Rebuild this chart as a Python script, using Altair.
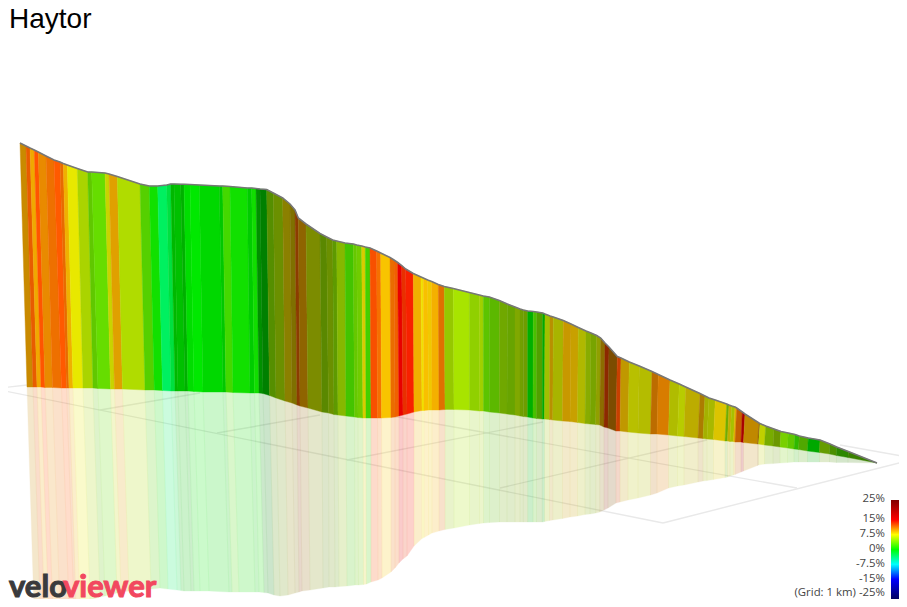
import altair as alt
import pandas as pd

# Scene, in page pixels. Every list holds one value per strip boundary.
top_x = [20,26,30,34.3,38.3,46,54,60,63.3,67.3,77.3,87.7,91.7,105,109,117.3,140,149.3,157.7,166.7,170.7,174,180.7,184,190,199.3,219.3,222.7,230,247.3,251.7,256,260,266.7,273.3,282.7,290,295,298.3,306,320,326.7,332.7,336.7,345,353.3,356.7,361.7,365.3,370,376.7,380.7,390,394,397.7,401.7,405.7,413.3,421,423.3,427.7,431.7,438.3,444.3,453.3,469.3,479.3,483.3,489.3,499.3,507.3,515,520,523.3,527.7,533.3,536.7,542.7,545,550,553.3,563.3,571,578.3,586,591,596.7,600.7,605,609,617.3,621,629.3,639.3,652,658.3,670,679.3,685.7,700,705,709,715.3,726.7,729,731.7,735,736.7,742.3,745,759,760,765.7,774,781,788.3,795,799.3,808.3,820,830,836.7,848.3,877]
top_y = [143,146,148,150,152,156,160,162,163.5,165,168.5,172,172,173,174,176.5,184,186,186,185,184,184,184.2,184.3,184.5,185,186,186,186.5,188,188,188.5,189,189.5,193,198,204,210,218,224,233.5,237,240,241,243,244,245,246,247,248,251,253,257.5,260,262.5,265.5,269,273.5,277,278,280,281.5,284.5,286.5,288.5,292.5,295,296,297,300.5,304,307,309,310,311,311.5,312,313,314,316,317,320.5,324,327.5,331,333,335.5,338,343,347,356.5,358,362,366,371.5,374.5,380,384,387,393.5,396,398,400,404,405,406,407,408,412,414,423,423.5,426,429,431.5,433,434.5,436,438,440,444,447,451.5,463]
base_x = [27,33,37,41,45,52.5,61.5,66.5,69,73,83,93,98,110.5,114.5,122.5,145,154.3,162.5,171,175,178,185,188,194,203,223,226,233,250,254.5,259,263,269.5,276,285,292,297,300,308,322,328.5,334,338,346,354.5,358,363,366,371,377.5,381.5,391,395,399,403,407,414,422,424,428.5,432,439,445,454,469.5,479.5,483.5,489.5,499.5,507,515,520,523.3,527.7,533,536.5,542.3,544.5,549.5,552.8,562.5,570,577.5,585,590,595.7,599.7,604,608,616,620,628,638,650.5,657,668.5,677.5,684,698,703,707,713.5,725,727.5,730,733.5,735,741,743.5,757.5,758.5,764.5,773,780,787.5,794,798.5,807.5,819.5,829.5,836.5,848,877]
base_y = [387,387,387,387,387.5,387.5,388,388,388,388,388,388,388.5,389,389,389,390,390,390.5,391,391,391,391,391,391.5,392,392,392,392.5,393,393,393,393.5,395.5,398,401,403,405,406,408,412,413,414.5,415,416,417,417.5,418,418,418,418,418,417.5,417,416,415,414,412,410.5,410.5,410,410,410,409.5,409.5,410,411,411,412,413,414,415,416,416.5,417,418,418.5,419,419,419.5,420,421,421.5,422.5,423.5,424,424.5,425,427,428,431,431,432,433,434,434,435,436,436.5,438,438.5,439,439.5,441,441,441.5,441.5,442,442,442.5,444,444,445,446,447,448,449,449.5,451,452.5,454,455.5,457.5,463]
refl_x = [35,41,45,49,53,60,69,74,76,80,90,100,105,117,121,129,151,160,168,177,181,184,191,194,200,209,229,232,239,255,259,264,268,274,280,288,295,299,302,310,323,329,335,339,347,355,358.5,363.5,366.5,371,378,382,391,395,399,403,407,414,422,424,428.5,432,439,445,454,469.5,479.5,483.5,489.5,499.5,507,515,520,523.3,527.7,533,536.5,542.3,544.5,549.5,552.8,562.5,570,577.5,585,590,595.7,599.7,604,608,616,620,628,638,650.5,657,668.5,677.5,684,698,703,707,713.5,725,727.5,730,733.5,735,741,743.5,757.5,758.5,764.5,773,780,787.5,794,798.5,807.5,819.5,829.5,836.5,848,877]
refl_y = [640,632,626,620,615,610,608,606,605,603,600,597,596,593,592,591,589,588,589,590,590.5,591,591,591,591,591,592,592,592,592,592,592.5,593,595,596,595,593,592,591,590,588,587,587,586.5,586,585,585,584.5,584,582,580,578,572,568,563,559,556,546,538.5,537.5,535,533,531,529.5,528,525,523.5,523,522.5,522,522,522,522,522,522,522,522,522,521.5,520.5,520,518.5,517,516,514.5,514,513,512,510,508,503,502,500,498,495,493,488,486,485,482,481,480.5,479.5,477.5,477,476,475,474.5,472,471,465.5,465,464,463.5,463,462.5,462,462,462,462,462,462.5,462.5,463]
strip_colors = ["#c98a00","#e85c00","#f0a800","#ff5500","#e98a00","#ee7000","#ff5a00","#e86a00","#f0b000","#e8e800","#aad400","#60c800","#66dd00","#c8d400","#e0a000","#b0dc00","#55d000","#11e000","#00f060","#00e040","#00b800","#00c000","#00b000","#00dd00","#00e800","#00d800","#00c800","#44d800","#11e000","#00cc00","#11dd00","#009000","#008000","#558f00","#6b9000","#8b8000","#7f7000","#8c3c00","#8f6400","#7c8c00","#5a8800","#6b9000","#5e9a00","#86b800","#44c400","#66c800","#70cc00","#d8cc00","#44d000","#f85000","#f57000","#f8c400","#ea6c00","#f06000","#e80000","#e83000","#f82000","#f0b000","#f0e000","#f8c000","#f0c800","#f4b000","#e07000","#96c800","#a8e400","#90d000","#a0d000","#5cc400","#5cb800","#70a800","#68a400","#80a800","#70a000","#6c9c00","#00b000","#48c000","#50a000","#00a800","#a0c000","#b89000","#a8b400","#c89800","#c8a000","#b0b800","#88ac00","#78a400","#90a000","#8c6c00","#8c2800","#7c4c00","#c84000","#c09800","#b8c000","#b4bc00","#bc6c00","#d87c00","#b0bc00","#b8cc00","#bcac00","#ac7c00","#a4b000","#a8b800","#dcc400","#70ac00","#c0b000","#a8c000","#e0b000","#c46000","#a80000","#c08800","#905800","#c0d000","#78ac00","#6c9800","#78d000","#60c800","#30b800","#50a800","#00a800","#669c00","#4a8f00","#2c8800","#3a8000"]

# Ground grid segments
grid_x1 = [0,0,100,217,347,500,375,663,840]
grid_y1 = [388,390,410,433,460,488,413,523,445]
grid_x2 = [27,663,200,320,543,707,797,907,907]
grid_y2 = [385,523,393,415,422,440,488,461,457]

# Legend
legend_labels = ["25%","15%","7.5%","0%","-7.5%","-15%","(Grid: 1 km) -25%"]
legend_y = [499,519,534,549,564,579,593]
legend_stops = [(0,"#800000"),(0.2,"#ff0000"),(0.35,"#ffff00"),(0.5,"#00ff00"),(0.65,"#00ffff"),(0.8,"#0000ff"),(1,"#000060")]
bar_x = [891,899]
bar_y = [500,599]
legend_right = 885

SX = alt.Scale(domain=[0,899], range=[-8,891])
SY = alt.Scale(domain=[0,599], range=[-8,591])

def polys(xa, ya, xb, yb):
    rows = []
    for i, c in enumerate(strip_colors):
        pts = [(xa[i],ya[i]),(xa[i+1],ya[i+1]),(xb[i+1],yb[i+1]),(xb[i],yb[i])]
        for k,(px,py) in enumerate(pts):
            rows.append({"s":i,"k":k,"x":px,"y":py,"c":c})
    return pd.DataFrame(rows)

X = alt.X("x:Q", scale=SX, axis=None)
Y = alt.Y("y:Q", scale=SY, axis=None)

def poly_layer(df, opacity, sw):
    return alt.Chart(df).mark_line(strokeWidth=sw, opacity=opacity, interpolate="linear-closed", clip=True).encode(
        x=X, y=Y, detail="s:N", order="k:Q",
        fill=alt.Fill("c:N", scale=None),
        stroke=alt.Stroke("c:N", scale=None),
    )

grid_rows = []
for i in range(len(grid_x1)):
    grid_rows += [{"g":i,"k":0,"x":grid_x1[i],"y":grid_y1[i]},{"g":i,"k":1,"x":grid_x2[i],"y":grid_y2[i]}]
grid = alt.Chart(pd.DataFrame(grid_rows)).mark_line(color="#e9e9e9", strokeWidth=1.4).encode(
    x=X, y=Y, detail="g:N", order="k:Q")

refl = poly_layer(polys(base_x, base_y, refl_x, refl_y), 0.2, 0.3)
wall = poly_layer(polys(top_x, top_y, base_x, base_y), 1, 0.4)
ridge = alt.Chart(pd.DataFrame({"x":top_x,"y":top_y,"k":range(len(top_x))})).mark_line(color="#777777", strokeWidth=1.6).encode(
    x=X, y=Y, order="k:Q")

legend_bar = alt.Chart(pd.DataFrame({"x":[bar_x[0]],"x2":[bar_x[1]],"y":[bar_y[0]],"y2":[bar_y[1]]})).mark_rect(
    fill=alt.LinearGradient(gradient="linear", x1=0, x2=0, y1=0, y2=1, stops=[alt.GradientStop(offset=o,color=c) for o,c in legend_stops])
).encode(x=X, x2="x2:Q", y=Y, y2="y2:Q")

legend_text = alt.Chart(pd.DataFrame({"x":[legend_right]*len(legend_labels),"y":legend_y,"t":legend_labels})).mark_text(
    align="right", baseline="middle", font="Open Sans", fontSize=11.4, color="#444444"
).encode(x=X, y=Y, text="t:N")

def word(text, x, y, color, font, size, weight="normal", stroke=0):
    return alt.Chart(pd.DataFrame({"x":[x],"y":[y],"t":[text]})).mark_text(
        align="left", baseline="alphabetic", font=font, fontWeight=weight, fontSize=size, color=color,
        stroke=color, strokeWidth=stroke
    ).encode(x=X, y=Y, text="t:N")

title = word("Haytor", 9, 28, "#000000", "Liberation Sans", 28)
logo1 = word("velo", 9, 597, "#3a3a3c", "Lato", 31, "bold", 1)
logo2 = word("viewer", 63, 597, "#f2485f", "Lato", 31, "bold", 1)

chart = alt.layer(grid, refl, wall, ridge, legend_bar, legend_text, title, logo1, logo2).properties(
    width=891, height=591, padding=0, autosize="none",
).configure_view(stroke=None)

chart.save("out.html", embed_options={"renderer": "svg", "actions": False})
